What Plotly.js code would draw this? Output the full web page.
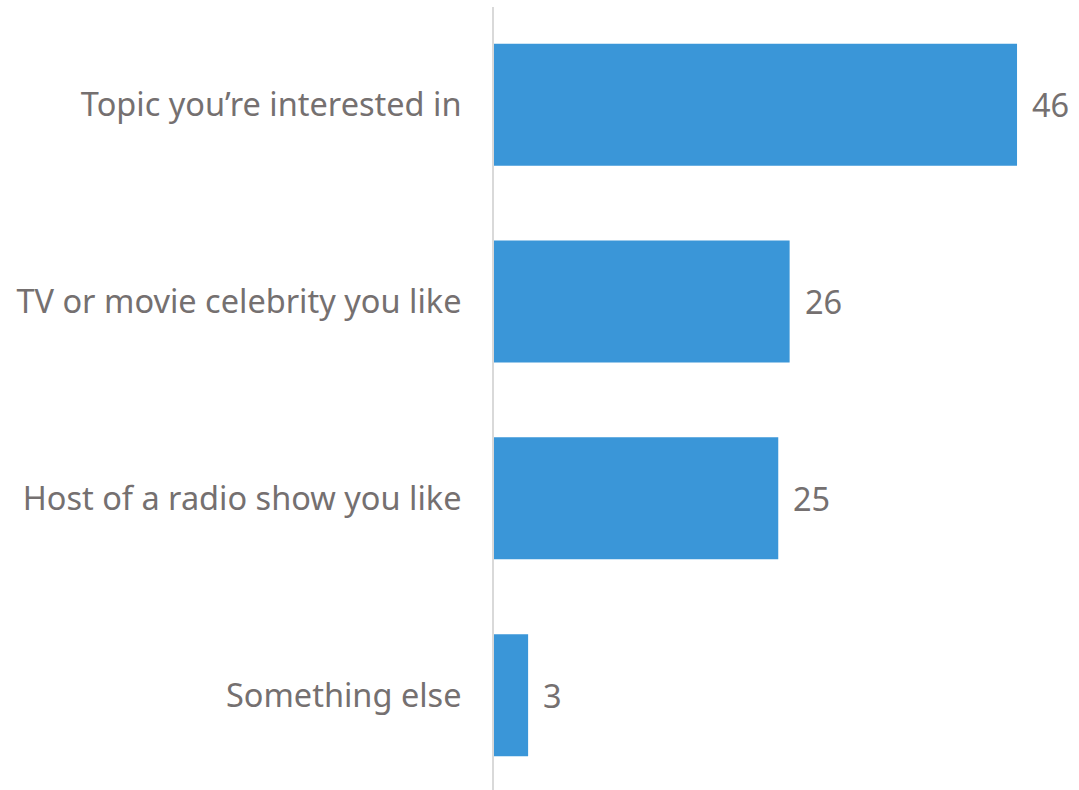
<!DOCTYPE html>
<html>
<head>
<meta charset="utf-8">
<script src="https://cdn.plot.ly/plotly-3.0.1.min.js"></script>
<style>html,body{margin:0;padding:0;background:#fff;}#chart{width:1079px;height:790px;}</style>
</head>
<body>
<div id="chart"></div>
<script>
const categories = ["Topic you’re interested in", "TV or movie celebrity you like", "Host of a radio show you like", "Something else"];
const values = [46, 26, 25, 3];
const valueLabels = ["46", "26", "25", "3"];

const FONT = "'Noto Sans', 'Open Sans', sans-serif";
const TXT = "#757070";

const trace = {
  type: 'bar',
  orientation: 'h',
  y: categories,
  x: values,
  marker: {color: '#3a96d8'},
  width: 0.62,
  hoverinfo: 'none'
};

const annotations = categories.map((c, i) => ({
  x: values[i], y: c, xref: 'x', yref: 'y',
  text: valueLabels[i], showarrow: false,
  xanchor: 'left', xshift: 13,
  font: {family: FONT, size: 32.5, color: TXT}
}));

const layout = {
  width: 1079, height: 790,
  margin: {l: 494, r: 0, t: 7, b: 0},
  paper_bgcolor: '#fff', plot_bgcolor: '#fff',
  showlegend: false,
  xaxis: {range: [0, 51.45], visible: false, fixedrange: true},
  yaxis: {
    type: 'category',
    range: [3.482, -0.497],
    showline: true, linecolor: '#d9d9d9', linewidth: 2,
    showgrid: false, zeroline: false,
    ticks: 'outside', ticklen: 24, tickcolor: 'rgba(0,0,0,0)',
    tickfont: {family: FONT, size: 32.5, color: TXT}
  },
  annotations: annotations
};

Plotly.newPlot('chart', [trace], layout, {displayModeBar: false, staticPlot: true});
</script>
</body>
</html>
